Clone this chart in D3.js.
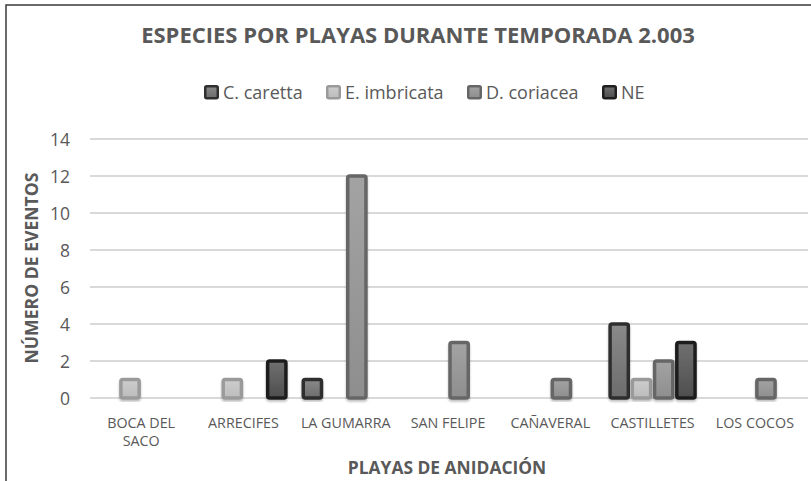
<!DOCTYPE html>
<html>
<head>
<meta charset="utf-8">
<script src="https://cdnjs.cloudflare.com/ajax/libs/d3/7.8.5/d3.min.js"></script>
<style>
  body { margin: 0; background: #fff; }
  svg { display: block; }
  text { font-family: "Open Sans", "Noto Sans", sans-serif; fill: #595959; }
</style>
</head>
<body>
<div class="grafico"></div>
<script>
// datos
var playas = ['BOCA DEL SACO', 'ARRECIFES', 'LA GUMARRA', 'SAN FELIPE', 'CAÑAVERAL', 'CASTILLETES', 'LOS COCOS'];
var especies = ['C. caretta', 'E. imbricata', 'D. coriacea', 'NE'];
var cCaretta   = [0, 0, 1, 0, 0, 4, 0];
var eImbricata = [1, 1, 0, 0, 0, 1, 0];
var dCoriacea  = [0, 0, 12, 3, 1, 2, 1];
var ne         = [0, 2, 0, 0, 0, 3, 0];
var yTicks = [0, 2, 4, 6, 8, 10, 12, 14];

var series = [cCaretta, eImbricata, dCoriacea, ne];

// estilos por especie: borde, color arriba, color abajo
var estilos = [
  { stroke: '#2f2f2f', top: '#8a8a8a', bottom: '#6c6c6c' },
  { stroke: '#9a9a9a', top: '#cdcdcd', bottom: '#bcbcbc' },
  { stroke: '#666666', top: '#a3a3a3', bottom: '#8e8e8e' },
  { stroke: '#1f1f1f', top: '#707070', bottom: '#4e4e4e' }
];

var W = 811, H = 481;
var plot = { left: 90, right: 806, top: 139, bottom: 398 };

var svg = d3.select('.grafico').append('svg')
  .attr('width', W).attr('height', H);

var defs = svg.append('defs');
estilos.forEach(function (e, i) {
  var g = defs.append('linearGradient').attr('id', 'grad' + i)
    .attr('x1', 0).attr('y1', 0).attr('x2', 0).attr('y2', 1);
  g.append('stop').attr('offset', '0%').attr('stop-color', e.top);
  g.append('stop').attr('offset', '100%').attr('stop-color', e.bottom);
});
var sombra = defs.append('filter').attr('id', 'sombra')
  .attr('x', '-20%').attr('y', '-20%').attr('width', '140%').attr('height', '140%');
sombra.append('feDropShadow').attr('dx', 0).attr('dy', 2).attr('stdDeviation', 1)
  .attr('flood-color', '#000').attr('flood-opacity', 0.25);

// marco
svg.append('rect')
  .attr('x', 6).attr('y', 5).attr('width', W + 10).attr('height', H + 10)
  .attr('fill', 'none').attr('stroke', '#3a3a3a').attr('stroke-width', 1.5);

var xScale = d3.scaleBand().domain(playas).range([plot.left, plot.right]);
var x1 = d3.scaleBand().domain(d3.range(especies.length))
  .range([0, xScale.bandwidth() * 4 / 4.6]);
var yScale = d3.scaleLinear().domain([0, 14]).range([plot.bottom, plot.top]);

// lineas de cuadricula
svg.append('g')
  .selectAll('line').data(yTicks).enter().append('line')
  .attr('x1', plot.left).attr('x2', plot.right + 2)
  .attr('y1', function (d) { return yScale(d); })
  .attr('y2', function (d) { return yScale(d); })
  .attr('stroke', '#d9d9d9').attr('stroke-width', 2);

// eje y
var yAxis = d3.axisLeft(yScale).tickValues(yTicks).tickSize(0).tickPadding(0);
var gy = svg.append('g').attr('transform', 'translate(' + 70 + ',0)').call(yAxis);
gy.select('.domain').remove();
gy.selectAll('text').style('font-size', '17.5px').attr('fill', '#595959').attr('dy', '0.35em');

// eje x
var xAxis = d3.axisBottom(xScale).tickSize(0).tickPadding(0);
var gx = svg.append('g').attr('transform', 'translate(0,' + 412 + ')').call(xAxis);
gx.select('.domain').remove();
gx.selectAll('text').remove();
gx.selectAll('.tick').each(function (d) {
  var t = d3.select(this).append('text')
    .attr('text-anchor', 'middle').style('font-size', '14.3px').attr('fill', '#595959');
  var lineas = d === 'BOCA DEL SACO' ? ['BOCA DEL', 'SACO'] : [d];
  lineas.forEach(function (l, i) {
    t.append('tspan').attr('x', 0).attr('y', 16 + i * 18).text(l);
  });
});

// barras
var grupoOffset = (xScale.bandwidth() - x1.range()[1]) / 2;
var grupos = svg.append('g').selectAll('g').data(playas).enter().append('g')
  .attr('transform', function (d) { return 'translate(' + (xScale(d) + grupoOffset) + ',0)'; });

grupos.selectAll('rect')
  .data(function (d, i) {
    return series.map(function (s, k) { return { k: k, v: s[i] }; })
      .filter(function (e) { return e.v > 0; });
  })
  .enter().append('rect')
  .attr('x', function (e) { return x1(e.k) + 2; })
  .attr('width', x1.bandwidth() - 4)
  .attr('y', function (e) { return yScale(e.v); })
  .attr('height', function (e) { return yScale(0) - yScale(e.v); })
  .attr('rx', 2)
  .attr('fill', function (e) { return 'url(#grad' + e.k + ')'; })
  .attr('stroke', function (e) { return estilos[e.k].stroke; })
  .attr('stroke-width', 3.5)
  .attr('filter', 'url(#sombra)');

// titulo
svg.append('text').attr('x', 418).attr('y', 43).attr('text-anchor', 'middle')
  .style('font-size', '22px').style('font-weight', 'bold')
  .text('ESPECIES POR PLAYAS DURANTE TEMPORADA 2.003');

// leyenda
var legX = [204, 326, 467, 602];
var ley = svg.append('g').selectAll('g').data(especies).enter().append('g')
  .attr('transform', function (d, i) { return 'translate(' + legX[i] + ',85)'; });
ley.append('rect').attr('x', 1.25).attr('y', 1.25).attr('width', 12.5).attr('height', 12).attr('rx', 1.5)
  .attr('fill', function (d, i) { return 'url(#grad' + i + ')'; })
  .attr('stroke', function (d, i) { return estilos[i].stroke; }).attr('stroke-width', 2.5);
ley.append('text').attr('x', 19).attr('y', 13.5).style('font-size', '18px')
  .text(function (d) { return d; });

// titulos de ejes
svg.append('text').attr('x', 447).attr('y', 474).attr('text-anchor', 'middle')
  .style('font-size', '17.4px').style('font-weight', 'bold')
  .text('PLAYAS DE ANIDACIÓN');
svg.append('text').attr('transform', 'translate(38,268) rotate(-90)').attr('text-anchor', 'middle')
  .style('font-size', '17.6px').style('font-weight', 'bold')
  .text('NÚMERO DE EVENTOS');
</script>
</body>
</html>
